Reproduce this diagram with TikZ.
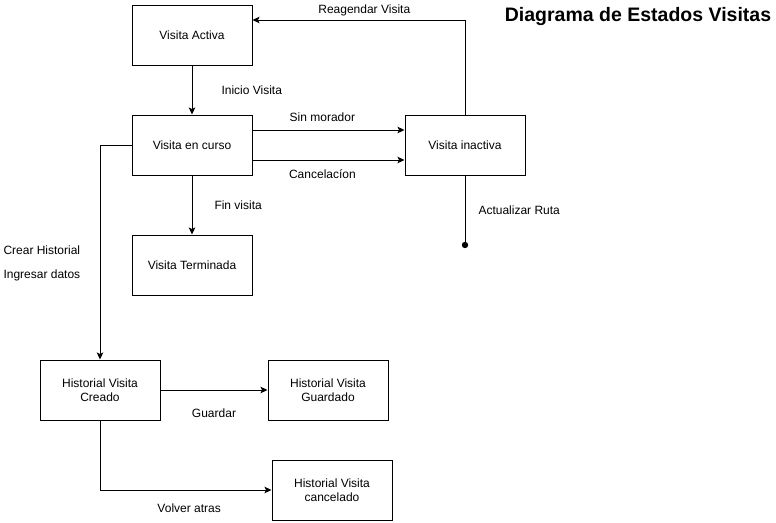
\documentclass[tikz,border=0pt]{standalone}
\usepackage{fontspec}
\setmainfont{Liberation Sans}
\usetikzlibrary{arrows.meta}

\begin{document}
\begin{tikzpicture}[x=1pt, y=-1pt, line width=1pt,
    estado/.style={draw, minimum width=120pt, minimum height=60pt, inner sep=2pt, align=center, font=\fontsize{12}{14}\selectfont},
    etiqueta/.style={font=\fontsize{12}{14}\selectfont, inner sep=0pt},
    flecha/.style={-{Stealth[length=7pt, width=6.5pt, inset=1.5pt]}}]
        \useasboundingbox (0,0) rectangle (776,522);

        \node[font=\fontsize{19.5}{22}\selectfont\bfseries] (titulo) at (638,17) {Diagrama de Estados Visitas};

        \node[estado] (activa) at (192,35) {Visita Activa};
        \node[estado] (curso) at (192,145) {Visita en curso};
        \node[estado] (terminada) at (192,265) {Visita Terminada};
        \node[estado] (inactiva) at (465,145) {Visita inactiva};

        \node[estado] (creado) at (100,390) {Historial Visita\\Creado};
        \node[estado] (guardado) at (328,390) {Historial Visita\\Guardado};
        \node[estado] (cancelado) at (332,490) {Historial Visita\\cancelado};

        \coordinate (ruta) at (465,245);

        \draw[flecha] (activa) -- (curso) node[etiqueta, midway, anchor=west, xshift=29pt] {Inicio Visita};
        \draw[flecha] (curso) -- (terminada) node[etiqueta, midway, anchor=west, xshift=22pt] {Fin visita};

        \draw[flecha] ([yshift=15pt]curso.east) -- ([yshift=15pt]inactiva.west)
            node[etiqueta, pos=0.46, yshift=13pt] {Sin morador};
        \draw[flecha] ([yshift=-15pt]curso.east) -- ([yshift=-15pt]inactiva.west)
            node[etiqueta, pos=0.46, yshift=-14pt] {Cancelacíon};

        \draw[flecha] (inactiva.north) |- ([yshift=15pt]activa.east)
            node[etiqueta, pos=0.737, yshift=10pt] {Reagendar Visita};
        \draw (inactiva) -- (ruta) node[etiqueta, midway, anchor=west, xshift=13pt] {Actualizar Ruta};
        \fill (ruta) circle (3.2pt);

        \draw[flecha] (curso.west) -| (creado.north);
        \node[etiqueta, anchor=west] (crear) at (3,250) {Crear Historial};
        \node[etiqueta, anchor=west] (ingresar) at (3,275) {Ingresar datos};

        \draw[flecha] (creado) -- (guardado) node[etiqueta, midway, yshift=-23pt] {Guardar};
        \draw[flecha] (creado.south) |- (cancelado.west)
            node[etiqueta, pos=0.76, yshift=-18pt] {Volver atras};

    \end{tikzpicture}
\end{document}
